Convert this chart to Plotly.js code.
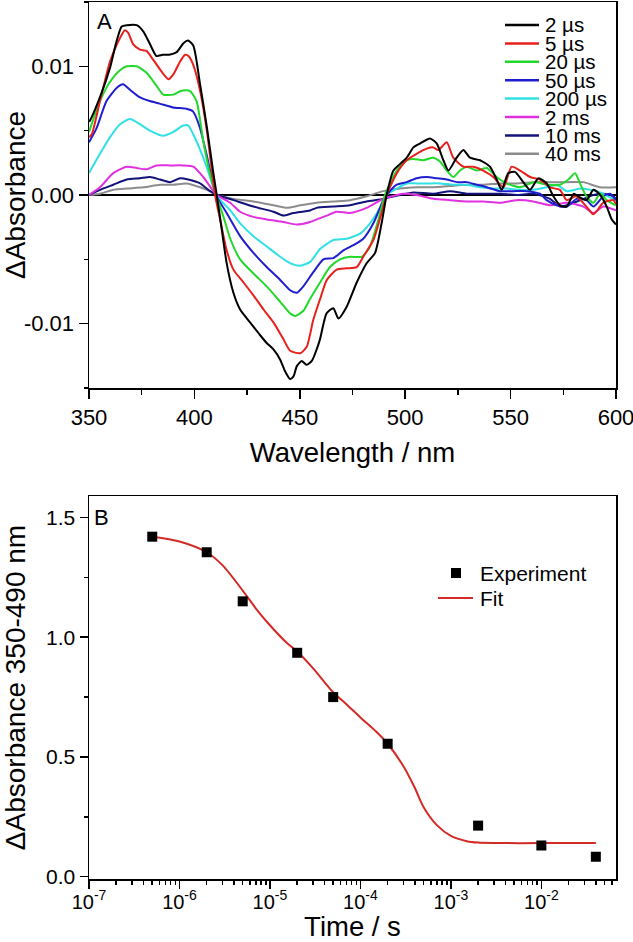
<!DOCTYPE html>
<html>
<head>
<meta charset="utf-8">
<script src="https://cdn.plot.ly/plotly-3.0.1.min.js"></script>
<style>html,body{margin:0;padding:0;background:#fff;}#chart{width:633px;height:942px;}</style>
</head>
<body>
<div id="chart"></div>
<script>
// ---------- Panel A: transient spectra ----------
const seriesNames = ["2 µs", "5 µs", "20 µs", "50 µs", "200 µs", "2 ms", "10 ms", "40 ms"];
const seriesColors = ["#000000", "#e8201c", "#22d82a", "#1e1ecf", "#30e0e6", "#e030e0", "#12127a", "#8c8c8c"];

const wl_2us = [350,350.5,355.2,360,363,365.5,368,372.6,375.8,379,382,385,388,391.6,394.8,397,399.5,402.7,405.9,409,410.6,413,415.3,418.5,421.7,426.4,431.2,434.3,437.5,440.7,443,445.4,447,448.6,450.9,453.3,455.7,458,459.6,462.7,465.9,468.3,472.2,477,481.7,485.7,488.8,491.2,494.4,497.5,500.7,503.9,507,511.8,515,518.1,520.5,524.4,527.6,530.7,535.5,540.2,543.4,545.8,548.9,552.1,556,559.2,563.2,567.1,570.3,573.4,576.6,580,583,586,589.3,592.5,595.6,598,600];
const abs_2us = [0.0057,0.0058,0.0076,0.0099,0.0119,0.0131,0.0132,0.0132,0.0127,0.0117,0.0108,0.0109,0.0109,0.0111,0.0118,0.0120,0.0116,0.0086,0.0053,0.0017,0,-0.0027,-0.0053,-0.0076,-0.0089,-0.0099,-0.0109,-0.0115,-0.0120,-0.0128,-0.0137,-0.0143,-0.0141,-0.0133,-0.0129,-0.0132,-0.0129,-0.0120,-0.0112,-0.0092,-0.0088,-0.0096,-0.0087,-0.0068,-0.0053,-0.0045,-0.0022,0,0.0019,0.0024,0.0029,0.0037,0.0040,0.0044,0.0040,0.0027,0.0019,0.0029,0.0035,0.0029,0.0027,0.0022,0.0012,0.0004,0.0017,0.0018,0.0010,0.0004,0.0013,0.0009,-0.0001,-0.0008,-0.0009,0.0001,-0.0002,-0.0004,0.0004,0.0000,-0.0009,-0.0019,-0.0023];

const wl_5us = [350,351.3,355.2,360,363.8,367,368.6,371,374.2,377.3,380.5,385.3,387.7,390.1,393.3,395.6,397.2,399.5,402.7,405.9,409.8,412.2,415.3,418.5,423.3,428,432.8,437.5,442.2,445.4,450.2,453.3,456.4,459.6,462.8,467.5,472.2,477,480.1,484.9,488.8,491.2,496,500.7,505.4,510.2,513.3,515.7,519.7,522.8,527.6,532.3,537,541.8,546.6,550.5,554.5,559.2,564,568.7,573.4,576.6,581,586,589.3,594,598.7,600];
const abs_5us = [0.0045,0.0047,0.0073,0.0104,0.0119,0.0128,0.0126,0.0117,0.0113,0.0112,0.0105,0.0094,0.0090,0.0094,0.0104,0.0109,0.0108,0.0101,0.0081,0.0050,0,-0.0019,-0.0043,-0.0058,-0.0068,-0.0078,-0.0089,-0.0099,-0.0112,-0.0121,-0.0123,-0.0118,-0.0097,-0.0081,-0.0066,-0.0058,-0.0057,-0.0056,-0.0048,-0.0035,-0.0014,0,0.0017,0.0027,0.0032,0.0036,0.0037,0.0035,0.0041,0.0029,0.0022,0.0022,0.0019,0.0014,0.0006,0.0022,0.0019,0.0014,0.0012,0.0006,0.0004,-0.0004,-0.0001,-0.0009,-0.0015,-0.0006,-0.0004,-0.0007];

const wl_20us = [350,355.2,360,364.7,367.9,372.6,377.3,382,385.2,390,393.9,397.8,401,404.2,407.3,410.3,413.8,417,421.7,428,434.3,440.7,445.4,447.8,451.7,454.8,459.6,464.3,469.1,473.8,479.4,483.3,487.3,490.4,496,500.7,503.9,508.6,513.3,516.5,519.7,522.8,526,529.2,533.9,538.7,543.4,548.1,554.5,560.8,567.1,573.4,577.4,580.6,582.9,586,589.3,592.5,595.6,600];
const abs_20us = [0.0049,0.0073,0.0088,0.0097,0.0100,0.0100,0.0095,0.0085,0.0078,0.0078,0.0081,0.0081,0.0073,0.0042,0.0017,0,-0.0017,-0.0034,-0.0050,-0.0061,-0.0071,-0.0083,-0.0092,-0.0094,-0.0090,-0.0081,-0.0068,-0.0056,-0.0050,-0.0048,-0.0048,-0.0040,-0.0019,0,0.0019,0.0027,0.0028,0.0027,0.0029,0.0026,0.0019,0.0014,0.0019,0.0022,0.0019,0.0021,0.0014,0.0009,0.0006,0.0010,0.0008,0.0008,0.0012,0.0017,0.0009,-0.0001,-0.0006,0.0001,-0.0004,-0.0008];

const wl_50us = [350,353.6,358.3,363,366.1,369.3,374,378.8,383.5,389.9,396.2,399.3,402.5,405.7,410.3,415.3,421.7,428,434.3,440.7,445.4,448.6,451.7,456.4,461.2,465.9,470.7,475.4,480.1,484.9,489.6,491.2,496,500.7,505.4,510.2,515,519.7,524.4,529.2,533.9,538.7,545,551.3,557.6,563.9,567.1,571.9,576.6,581.3,586,589.3,594,597.2,600];
const abs_50us = [0.0041,0.0052,0.0073,0.0083,0.0086,0.0082,0.0076,0.0073,0.0071,0.0068,0.0067,0.0065,0.0053,0.0032,0,-0.0014,-0.0032,-0.0045,-0.0056,-0.0066,-0.0074,-0.0076,-0.0071,-0.0060,-0.0050,-0.0049,-0.0043,-0.0039,-0.0034,-0.0022,-0.0004,0,0.0008,0.0010,0.0013,0.0014,0.0013,0.0012,0.0010,0.0010,0.0008,0.0006,0.0003,0.0003,0.0003,0.0001,-0.0004,-0.0008,-0.0009,-0.0003,-0.0004,-0.0009,-0.0001,0.0001,-0.0004];

const wl_200us = [350,355.2,360,364.7,369.4,374.2,378.9,385.2,390,394.7,397.1,399.5,404.2,407.4,410.3,417,421.7,428,434.3,440.7,445.4,450.2,454.9,459.6,465.9,472.2,478.6,483.3,488.1,491.2,496,500.7,505.4,510.2,516.5,522.8,529.2,535.5,541.8,548.1,554.5,560.8,567.1,571.9,576.6,583,587.7,592.4,596,600];
const abs_200us = [0.0017,0.0032,0.0045,0.0055,0.0059,0.0055,0.0050,0.0046,0.0049,0.0054,0.0054,0.0047,0.0029,0.0014,0,-0.0012,-0.0022,-0.0032,-0.0040,-0.0048,-0.0053,-0.0055,-0.0052,-0.0042,-0.0035,-0.0034,-0.0030,-0.0022,-0.0010,0,0.0005,0.0009,0.0009,0.0009,0.0009,0.0008,0.0008,0.0006,0.0005,0.0005,0.0004,0.0004,0.0006,0.0008,0.0003,0.0005,0.0004,0.0002,-0.0001,-0.0004];

const wl_2ms = [350,355.2,361.5,367.9,372.6,377.3,382,388.4,394.7,399.5,404.2,410.6,417,421.7,428,434.3,442.2,448.6,454.9,459.6,462.8,467.5,473.8,481.7,489.6,496,499,505.4,513.3,521.3,529.2,537,545,552.9,560.8,568.7,576.6,584.5,589.3,594,600];
const abs_2ms = [0,0.0006,0.0017,0.0022,0.0021,0.0020,0.0023,0.0023,0.0023,0.0022,0.0014,0,-0.0006,-0.0013,-0.0017,-0.0019,-0.0021,-0.0023,-0.0021,-0.0018,-0.0016,-0.0013,-0.0014,-0.0010,-0.0003,0,0.0001,0,-0.0003,-0.0004,-0.0005,-0.0005,-0.0006,-0.0004,-0.0005,-0.0008,-0.0006,-0.0009,-0.0014,-0.0009,-0.0012];

const wl_10ms = [350,355.2,361.5,367.9,374.2,379,383.7,388.4,393.2,397.1,402.7,407.4,410.9,418.5,428,437.5,442.2,447,454.9,458,465.9,473.8,481.7,489.6,497.5,503.9,513.4,521.3,529.2,537,545,552.9,560.8,568.7,573.4,576.6,584.5,589.3,594,598.7,600];
const abs_10ms = [0,0.0004,0.0008,0.0012,0.0013,0.0014,0.0012,0.0010,0.0013,0.0012,0.0009,0.0003,0,-0.0004,-0.0009,-0.0013,-0.0016,-0.0014,-0.0012,-0.0010,-0.0009,-0.0008,-0.0005,-0.0003,0,0.0002,0.0001,0.0003,0.0001,0.0001,0.0001,0,0.0001,-0.0003,-0.0009,-0.0008,-0.0003,0,0.0001,-0.0001,-0.0003];

const wl_40ms = [350,355.2,361.5,367.9,375.8,383.7,390,396.3,402.7,407.4,410.9,418.5,428,437.5,443.8,450.2,458,465.9,473.8,481.7,489.6,497.5,505.4,513.4,521.3,529.2,537,545,552.9,560.8,568.7,576.6,584.5,592.4,600];
const abs_40ms = [0,0.0001,0.0004,0.0005,0.0006,0.0008,0.0008,0.0009,0.0006,0.0003,0,-0.0003,-0.0005,-0.0008,-0.0010,-0.0008,-0.0006,-0.0005,-0.0004,-0.0001,0.0003,0.0005,0.0006,0.0006,0.0007,0.0008,0.0008,0.0009,0.0009,0.0010,0.0010,0.0010,0.0010,0.0006,0.0006];

const wlTicks = [350, 400, 450, 500, 550, 600];
const wlMinor = [375, 425, 475, 525, 575];
const absTicks = [-0.01, 0, 0.01];
const absTickText = ["-0.01", "0.00", "0.01"];
const absMinor = [-0.015, -0.005, 0.005, 0.015];

// ---------- Panel B: kinetics ----------
const timeExp = [5e-7, 2e-6, 5e-6, 2e-5, 5e-5, 2e-4, 2e-3, 1e-2, 4e-2];
const absExp  = [1.42, 1.355, 1.15, 0.935, 0.75, 0.555, 0.213, 0.13, 0.083];
const timeFit = [5e-7, 1e-6, 2e-6, 3e-6, 5e-6, 7e-6, 1e-5, 1.5e-5, 2e-5, 3e-5, 5e-5, 7e-5, 1e-4, 1.5e-4, 2e-4, 3e-4, 4e-4, 5e-4, 7e-4, 1e-3, 1.5e-3, 2e-3, 3e-3, 1e-2, 4e-2];
const absFit  = [1.42, 1.40, 1.355, 1.30, 1.195, 1.12, 1.05, 0.98, 0.94, 0.87, 0.77, 0.72, 0.665, 0.605, 0.555, 0.46, 0.37, 0.29, 0.215, 0.17, 0.148, 0.142, 0.14, 0.14, 0.14];
const timeTicks = [1e-7, 1e-6, 1e-5, 1e-4, 1e-3, 1e-2];
const timeTickText = ["10<sup>-7</sup>", "10<sup>-6</sup>", "10<sup>-5</sup>", "10<sup>-4</sup>", "10<sup>-3</sup>", "10<sup>-2</sup>"];
const kinTicks = [0, 0.5, 1.0, 1.5];
const kinTickText = ["0.0", "0.5", "1.0", "1.5"];
const kinMinor = [0.25, 0.75, 1.25];
const kinLegend = ["Experiment", "Fit"];

// ---------- build ----------
const FONT = "Liberation Sans, Arial, sans-serif";
const wlArrays = [wl_2us, wl_5us, wl_20us, wl_50us, wl_200us, wl_2ms, wl_10ms, wl_40ms];
const absArrays = [abs_2us, abs_5us, abs_20us, abs_50us, abs_200us, abs_2ms, abs_10ms, abs_40ms];
const fitColor = "#d42a26";

const traces = [];
for (let i = seriesNames.length - 1; i >= 0; i--) {
  traces.push({
    x: wlArrays[i], y: absArrays[i], name: seriesNames[i],
    type: "scatter", mode: "lines", xaxis: "x", yaxis: "y",
    line: {color: seriesColors[i], width: 2, shape: "spline", smoothing: 0.6},
    showlegend: false, hoverinfo: "skip"
  });
}
traces.push({
  x: timeFit, y: absFit, name: kinLegend[1], type: "scatter", mode: "lines",
  xaxis: "x2", yaxis: "y2", line: {color: fitColor, width: 2, shape: "spline", smoothing: 0.8},
  showlegend: false
});
traces.push({
  x: timeExp, y: absExp, name: kinLegend[0], type: "scatter", mode: "markers",
  xaxis: "x2", yaxis: "y2", marker: {symbol: "square", size: 10, color: "#000"},
  showlegend: false
});

// minor ticks for log axis
const logMinor = [];
for (let e = -7; e <= -2; e++) {
  for (let m = 2; m <= 9; m++) {
    const v = m * Math.pow(10, e);
    if (v < 0.068) logMinor.push(v);
  }
}

const axLine = {showline: true, linecolor: "#000", linewidth: 1.5, showgrid: false, zeroline: false,
  tickcolor: "#000", tickwidth: 1.5, tickfont: {family: FONT, size: 22, color: "#000"},
  ticklabeloverflow: "allow"};

const plotL = 89, plotR = 616, plotT = 2, plotB = 879;
const W = plotR - plotL, H = plotB - plotT;
const px2x = p => (p - plotL) / W;
const px2y = p => (plotB - p) / H;

const shapes = [];
const annotations = [];
// legend for panel A
const legTop = 25, legStep = 18.4;
for (let i = 0; i < seriesNames.length; i++) {
  const yy = px2y(legTop + i * legStep);
  shapes.push({type: "line", xref: "paper", yref: "paper", x0: px2x(505), x1: px2x(539), y0: yy, y1: yy,
    line: {color: seriesColors[i], width: 2.5}});
  annotations.push({xref: "paper", yref: "paper", x: px2x(543), y: yy, xanchor: "left", yanchor: "middle",
    text: seriesNames[i], showarrow: false, font: {family: FONT, size: 20.5, color: "#000"}});
}
// legend for panel B
const kY0 = px2y(573), kY1 = px2y(598);
shapes.push({type: "rect", xref: "paper", yref: "paper",
  x0: px2x(451), x1: px2x(461), y0: kY0 - 5 / H, y1: kY0 + 5 / H,
  fillcolor: "#000", line: {width: 0}});
shapes.push({type: "line", xref: "paper", yref: "paper", x0: px2x(438), x1: px2x(473), y0: kY1, y1: kY1,
  line: {color: fitColor, width: 2}});
annotations.push({xref: "paper", yref: "paper", x: px2x(478), y: kY0, xanchor: "left", yanchor: "middle",
  text: kinLegend[0], showarrow: false, font: {family: FONT, size: 21, color: "#000"}});
annotations.push({xref: "paper", yref: "paper", x: px2x(478), y: kY1, xanchor: "left", yanchor: "middle",
  text: kinLegend[1], showarrow: false, font: {family: FONT, size: 21, color: "#000"}});
annotations.push({xref: "paper", yref: "paper", x: px2x(95), y: px2y(22), xanchor: "left", yanchor: "middle",
  text: "A", showarrow: false, font: {family: FONT, size: 22, color: "#000"}});
annotations.push({xref: "paper", yref: "paper", x: px2x(92), y: px2y(517), xanchor: "left", yanchor: "middle",
  text: "B", showarrow: false, font: {family: FONT, size: 22, color: "#000"}});

const layout = {
  width: 633, height: 942,
  margin: {l: plotL, r: 633 - plotR, t: plotT, b: 942 - plotB, pad: 0},
  paper_bgcolor: "#fff", plot_bgcolor: "#fff",
  font: {family: FONT, color: "#000"},
  showlegend: false,
  xaxis: Object.assign({}, axLine, {
    domain: [0, 1], anchor: "y", range: [350, 600], mirror: true,
    tickmode: "array", tickvals: wlTicks, ticktext: wlTicks.map(String),
    ticks: "outside", ticklen: 9,
    minor: {tickmode: "array", tickvals: wlMinor, ticks: "outside", ticklen: 5, tickcolor: "#000", tickwidth: 1.5},
    title: {text: "Wavelength / nm", font: {family: FONT, size: 27.5, color: "#000"}, standoff: 14}
  }),
  xaxis3: {
    overlaying: "x", anchor: "y", side: "top", range: [350, 600],
    showline: false, showgrid: false, zeroline: false, showticklabels: false,
    tickmode: "array", tickvals: wlTicks, ticks: "inside", ticklen: 6, tickcolor: "#000", tickwidth: 1.5,
    minor: {tickmode: "array", tickvals: wlMinor, ticks: "inside", ticklen: 6, tickcolor: "#000", tickwidth: 1.5}
  },
  yaxis: Object.assign({}, axLine, {
    domain: [px2y(388), 1], anchor: "x", range: [-0.015, 0.015], mirror: true,
    tickmode: "array", tickvals: absTicks, ticktext: absTickText,
    ticks: "outside", ticklen: 9,
    zeroline: true, zerolinecolor: "#000", zerolinewidth: 2,
    minor: {tickmode: "array", tickvals: absMinor, ticks: "outside", ticklen: 4, tickcolor: "#000", tickwidth: 1.5},
    title: {text: "ΔAbsorbance", font: {family: FONT, size: 28, color: "#000"}, standoff: 2}
  }),
  xaxis2: Object.assign({}, axLine, {
    domain: [0, 1], anchor: "y2", type: "log", range: [-7, -1.175], mirror: true,
    tickmode: "array", tickvals: timeTicks, ticktext: timeTickText,
    tickfont: {family: FONT, size: 20, color: "#000"},
    ticks: "outside", ticklen: 8, ticklabelstandoff: -4,
    minor: {tickmode: "array", tickvals: logMinor, ticks: "outside", ticklen: 4, tickcolor: "#000", tickwidth: 1.5},
    title: {text: "Time / s", font: {family: FONT, size: 27.5, color: "#000"}, standoff: 8}
  }),
  xaxis4: {
    overlaying: "x2", anchor: "y2", side: "top", type: "log", range: [-7, -1.175],
    showline: false, showgrid: false, zeroline: false, showticklabels: false,
    tickmode: "array", tickvals: timeTicks, ticks: "inside", ticklen: 7, tickcolor: "#000", tickwidth: 1.5,
    minor: {tickmode: "array", tickvals: logMinor, ticks: "inside", ticklen: 4, tickcolor: "#000", tickwidth: 1.5}
  },
  yaxis2: Object.assign({}, axLine, {
    domain: [0, px2y(496)], anchor: "x2", range: [-0.01, 1.59], mirror: true,
    tickmode: "array", tickvals: kinTicks, ticktext: kinTickText,
    tickfont: {family: FONT, size: 21, color: "#000"},
    ticks: "outside", ticklen: 8,
    minor: {tickmode: "array", tickvals: kinMinor, ticks: "outside", ticklen: 4, tickcolor: "#000", tickwidth: 1.5},
    title: {text: "ΔAbsorbance 350-490 nm", font: {family: FONT, size: 28, color: "#000"}, standoff: 20}
  }),
  shapes: shapes,
  annotations: annotations
};

Plotly.newPlot("chart", traces, layout, {staticPlot: true, displayModeBar: false});
</script>
</body>
</html>
